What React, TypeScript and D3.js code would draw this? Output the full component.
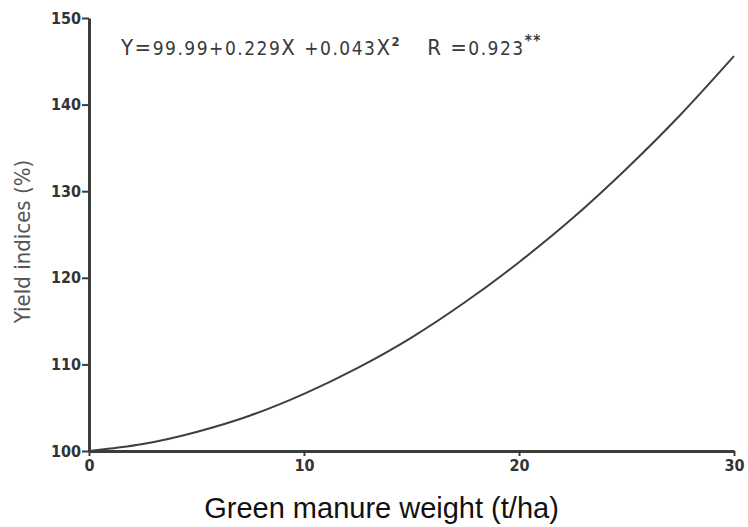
import * as d3 from "d3";
import { useEffect, useRef } from "react";

// green manure weight (t/ha) and yield index (%)
const weights = [0, 2.5, 5, 7.5, 10, 12.5, 15, 17.5, 20, 22.5, 25, 27.5, 30];
const yields = [100.0, 100.8, 102.2, 104.1, 106.6, 109.6, 113.1, 117.2, 121.8, 126.9, 132.6, 138.8, 145.6];
const xTicks = [0, 10, 20, 30];
const yTicks = [100, 110, 120, 130, 140, 150];

const width = 748;
const height = 527;
const narrow = "'Liberation Sans Narrow', 'DejaVu Sans Condensed', 'Roboto Condensed', sans-serif";

export default function App() {
  const ref = useRef<SVGSVGElement>(null);

  useEffect(() => {
    if (!ref.current) return;
    const svg = d3.select(ref.current);
    svg.selectAll("*").remove();

    const margin = { top: 18, right: 14, bottom: 76, left: 89 };
    const x = d3.scaleLinear().domain([0, 30]).range([margin.left, width - margin.right]);
    const y = d3.scaleLinear().domain([100, 150]).range([height - margin.bottom, margin.top]);
    const ink = "#3a3d3a";

    const yAxis = svg
      .append("g")
      .attr("transform", `translate(${margin.left},0)`)
      .call(d3.axisLeft(y).tickValues(yTicks).tickSize(7).tickSizeOuter(0).tickPadding(1));
    yAxis.select(".domain").attr("stroke", ink).attr("stroke-width", 3);
    yAxis.selectAll(".tick line").attr("stroke", ink).attr("stroke-width", 2);
    yAxis
      .selectAll(".tick text")
      .attr("fill", "#333")
      .attr("font-family", narrow)
      .attr("font-weight", "bold")
      .attr("font-size", 16);

    const xAxis = svg
      .append("g")
      .attr("transform", `translate(0,${y(100)})`)
      .call(d3.axisBottom(x).tickValues(xTicks).tickSize(5).tickSizeOuter(0).tickPadding(4));
    xAxis.select(".domain").attr("stroke", ink).attr("stroke-width", 3);
    xAxis.selectAll(".tick line").attr("stroke", ink).attr("stroke-width", 2);
    xAxis
      .selectAll(".tick text")
      .attr("fill", "#333")
      .attr("font-family", narrow)
      .attr("font-weight", "bold")
      .attr("font-size", 16);

    const pts = weights.map((w, i) => [w, yields[i]] as [number, number]);
    const line = d3
      .line<[number, number]>()
      .x((d) => x(d[0]))
      .y((d) => y(d[1]))
      .curve(d3.curveMonotoneX);

    svg
      .append("path")
      .datum(pts)
      .attr("fill", "none")
      .attr("stroke", "#3d403d")
      .attr("stroke-width", 2)
      .attr("d", line);

    // regression equation
    const eq = svg
      .append("text")
      .attr("x", 121)
      .attr("y", 55)
      .attr("fill", "#3a3a3a")
      .attr("font-family", narrow)
      .attr("font-size", 19)
      .attr("letter-spacing", 1.5);
    eq.append("tspan").attr("font-size", 22).text("Y=");
    eq.append("tspan").text("99.99+0.229");
    eq.append("tspan").attr("font-size", 22).text("X ");
    eq.append("tspan").text("+0.043");
    eq.append("tspan").attr("font-size", 22).text("X");
    eq.append("tspan").attr("font-size", 13).attr("dy", -9).attr("font-weight", "bold").text("2");
    eq.append("tspan").attr("dy", 9).attr("font-size", 22).attr("dx", 26).text("R =");
    eq.append("tspan").text("0.923");
    eq.append("tspan").attr("font-size", 15).attr("dy", -9).attr("font-weight", "bold").text("**");

    svg
      .append("text")
      .attr("transform", `translate(30,${(y(100) + y(150)) / 2 + 7}) rotate(-90)`)
      .attr("text-anchor", "middle")
      .attr("fill", "#555")
      .attr("font-family", narrow)
      .attr("font-size", 22)
      .text("Yield indices (%)");

    svg
      .append("text")
      .attr("x", (x(0) + x(30)) / 2 - 30)
      .attr("y", 518)
      .attr("text-anchor", "middle")
      .attr("fill", "#111")
      .attr("font-family", "'Liberation Sans', Arial, sans-serif")
      .attr("font-size", 29)
      .text("Green manure weight (t/ha)");
  }, []);

  return (
    <svg
      ref={ref}
      width={width}
      height={height}
      style={{ position: "absolute", left: 0, top: 0, background: "#fff" }}
    />
  );
}
